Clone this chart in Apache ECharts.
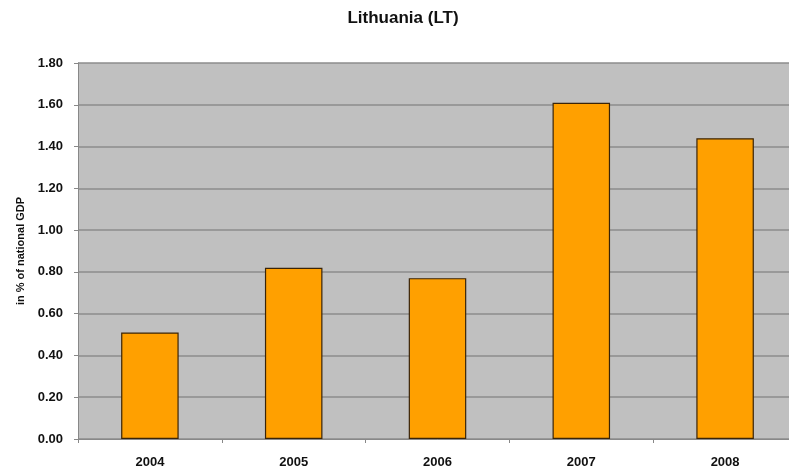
<!DOCTYPE html>
<html>
<head>
<meta charset="utf-8">
<script src="https://cdn.jsdelivr.net/npm/echarts@6/dist/echarts.min.js"></script>
<style>
  html, body { margin: 0; padding: 0; background: #fff; overflow: hidden; }
  /* the plot in the original runs a little past the right edge, so the canvas is wider than the window */
  #chart { width: 797px; height: 473px; }
</style>
</head>
<body>
<div id="chart"></div>
<script>
// data
const years = ['2004', '2005', '2006', '2007', '2008']
const shareOfGdp = [0.51, 0.82, 0.77, 1.61, 1.44]

const chart = echarts.init(document.getElementById('chart'))
chart.setOption({
  animation: false,
  textStyle: { fontFamily: '"Liberation Sans", Arial, sans-serif' },
  title: {
    text: 'Lithuania (LT)',
    left: 398,
    textAlign: 'center',
    top: 5,
    textStyle: { fontSize: 17, fontWeight: 'bold', color: '#111' }
  },
  grid: { left: 78, right: 0, top: 63, bottom: 34 },
  xAxis: {
    type: 'category',
    data: years,
    axisLine: { lineStyle: { color: '#888', width: 1 } },
    axisTick: { show: true, length: 4, lineStyle: { color: '#888' } },
    axisLabel: { color: '#111', fontSize: 13, fontWeight: 'bold', margin: 17 }
  },
  yAxis: {
    type: 'value',
    min: 0,
    max: 1.8,
    interval: 0.2,
    name: 'in % of national GDP',
    nameLocation: 'middle',
    nameGap: 50,
    nameTextStyle: { fontSize: 11, fontWeight: 'bold', color: '#111' },
    axisLine: { show: true, lineStyle: { color: '#888' } },
    axisTick: { show: true, length: 4, lineStyle: { color: '#888' } },
    axisLabel: {
      color: '#111', fontSize: 13, fontWeight: 'bold', margin: 15,
      formatter: v => v.toFixed(2)
    },
    splitLine: { lineStyle: { color: '#8c8c8c', width: 1.5 } },
    splitArea: { show: true, areaStyle: { color: ['#c0c0c0', '#c0c0c0'] } }
  },
  series: [
    {
      type: 'bar',
      data: shareOfGdp,
      barWidth: '40%',
      itemStyle: { color: '#ffa000', borderColor: '#3a2408', borderWidth: 1.2 }
    }
  ]
})
</script>
</body>
</html>
